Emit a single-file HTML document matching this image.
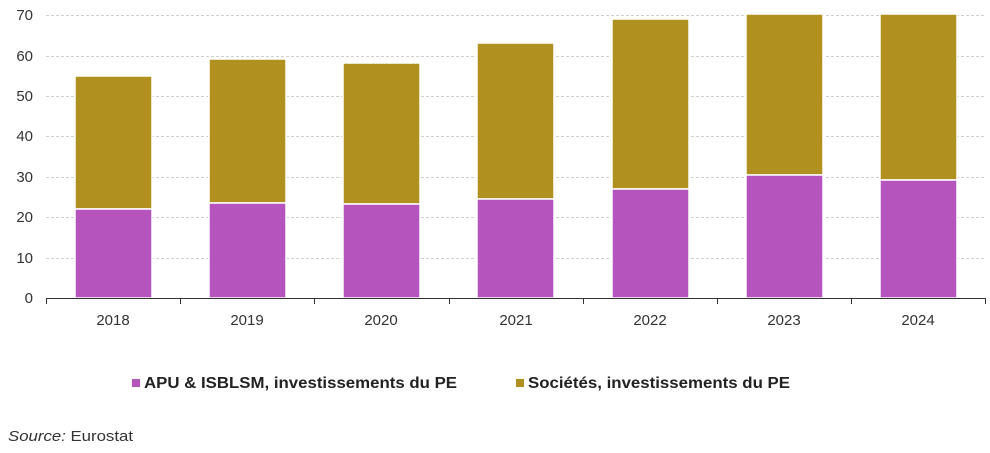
<!DOCTYPE html>
<html><head><meta charset="utf-8"><style>
html,body{margin:0;padding:0;background:#fff;}
svg{display:block;font-family:"Liberation Sans",Arial,sans-serif;}
</style></head><body>
<svg width="990" height="453" viewBox="0 0 990 453" xmlns="http://www.w3.org/2000/svg">
<g stroke="#cfcfcf" stroke-dasharray="3,2" stroke-width="1">
<line x1="46" x2="986" y1="15.5" y2="15.5"/>
<line x1="46" x2="986" y1="56.5" y2="56.5"/>
<line x1="46" x2="986" y1="96.5" y2="96.5"/>
<line x1="46" x2="986" y1="136.5" y2="136.5"/>
<line x1="46" x2="986" y1="177.5" y2="177.5"/>
<line x1="46" x2="986" y1="217.5" y2="217.5"/>
<line x1="46" x2="986" y1="258.5" y2="258.5"/>
</g>
<g font-size="15" fill="#333" text-anchor="end">
<text x="33" y="20">70</text><text x="33" y="61">60</text><text x="33" y="101">50</text>
<text x="33" y="141">40</text><text x="33" y="182">30</text><text x="33" y="222">20</text>
<text x="33" y="263">10</text><text x="33" y="303">0</text>
</g>
<g stroke="#fff" stroke-width="1.5">
<rect x="75" y="76" width="77" height="133" fill="#b0901e"/>
<rect x="75" y="209" width="77" height="89" fill="#b554bc"/>
<rect x="209" y="59" width="77" height="144" fill="#b0901e"/>
<rect x="209" y="203" width="77" height="95" fill="#b554bc"/>
<rect x="343" y="63" width="77" height="141" fill="#b0901e"/>
<rect x="343" y="204" width="77" height="94" fill="#b554bc"/>
<rect x="477" y="43" width="77" height="156" fill="#b0901e"/>
<rect x="477" y="199" width="77" height="99" fill="#b554bc"/>
<rect x="612" y="19" width="77" height="170" fill="#b0901e"/>
<rect x="612" y="189" width="77" height="109" fill="#b554bc"/>
<rect x="746" y="14" width="77" height="161" fill="#b0901e"/>
<rect x="746" y="175" width="77" height="123" fill="#b554bc"/>
<rect x="880" y="14" width="77" height="166" fill="#b0901e"/>
<rect x="880" y="180" width="77" height="118" fill="#b554bc"/>
</g>
<g stroke="#333" stroke-width="1">
<line x1="46" x2="986" y1="298.5" y2="298.5"/>
<line x1="46.5" x2="46.5" y1="298" y2="304"/>
<line x1="180.5" x2="180.5" y1="298" y2="304"/>
<line x1="314.5" x2="314.5" y1="298" y2="304"/>
<line x1="449.5" x2="449.5" y1="298" y2="304"/>
<line x1="583.5" x2="583.5" y1="298" y2="304"/>
<line x1="717.5" x2="717.5" y1="298" y2="304"/>
<line x1="851.5" x2="851.5" y1="298" y2="304"/>
<line x1="985.5" x2="985.5" y1="298" y2="304"/>
</g>
<g font-size="15" fill="#333" text-anchor="middle">
<text x="113" y="325">2018</text><text x="247" y="325">2019</text><text x="381" y="325">2020</text>
<text x="516" y="325">2021</text><text x="650" y="325">2022</text><text x="784" y="325">2023</text>
<text x="918" y="325">2024</text>
</g>
<rect x="132" y="379" width="8" height="8" fill="#b554bc"/>
<text x="144" y="388" font-size="16" font-weight="bold" fill="#222" textLength="313" lengthAdjust="spacingAndGlyphs">APU &amp; ISBLSM, investissements du PE</text>
<rect x="516" y="379" width="8" height="8" fill="#b0901e"/>
<text x="528" y="388" font-size="16" font-weight="bold" fill="#222" textLength="262" lengthAdjust="spacingAndGlyphs">Sociétés, investissements du PE</text>
<text x="8" y="441" font-size="15" fill="#333" textLength="125" lengthAdjust="spacingAndGlyphs"><tspan font-style="italic">Source:</tspan> Eurostat</text>
</svg>
</body></html>
